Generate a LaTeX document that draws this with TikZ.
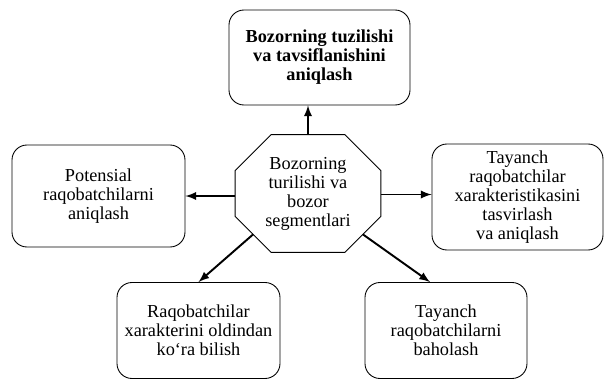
\documentclass[tikz,border=0pt]{standalone}
\usepackage{fontspec}
\setmainfont{Liberation Serif}
\usepackage{tikz}
\usetikzlibrary{arrows,calc,positioning}

\tikzset{
  box/.style={draw, line width=0.5pt, rounded corners=0.3cm, align=center,
    font=\fontsize{10.4}{10.8}\selectfont, inner sep=2pt},
  hubbox/.style={minimum width=2.9cm, minimum height=2.34cm, align=center,
    font=\fontsize{10.4}{10.8}\selectfont, inner sep=0pt},
  arr/.style={-latex, line width=1.1pt}
}

\begin{document}
\begin{tikzpicture}
\useasboundingbox (0,0) rectangle (12.12,7.58);
% boxes
\node[box, minimum width=3.62cm, minimum height=1.9cm, font=\fontsize{10.4}{10.8}\selectfont\bfseries] (top) at (6.39,6.43) {Bozorning tuzilishi\\va tavsiflanishini\\aniqlash};
\node[box, minimum width=3.46cm, minimum height=2.04cm] (lt) at (1.97,3.66) {Potensial\\raqobatchilarni\\aniqlash};
\node[box, minimum width=3.42cm, minimum height=2.12cm] (rt) at (10.35,3.64) {Tayanch\\raqobatchilar\\xarakteristikasini\\tasvirlash\\va aniqlash};
\node[box, minimum width=3.26cm, minimum height=1.92cm] (bl) at (3.97,0.97) {Raqobatchilar\\xarakterini oldindan\\ko`ra bilish};
\node[box, minimum width=3.24cm, minimum height=1.92cm] (br) at (8.92,0.97) {Tayanch\\raqobatchilarni\\baholash};
% octagon in the middle
\node[hubbox] (hub) at (6.16,3.71) {Bozorning\\turilishi va\\bozor\\segmentlari};
\draw[line width=0.5pt] ($(hub.north west)+(0.72,0)$) -- ($(hub.north east)+(-0.72,0)$)
  -- ($(hub.north east)+(0,-0.72)$) -- ($(hub.south east)+(0,0.72)$)
  -- ($(hub.south east)+(-0.72,0)$) -- ($(hub.south west)+(0.72,0)$)
  -- ($(hub.south west)+(0,0.72)$) -- ($(hub.north west)+(0,-0.72)$) -- cycle;
\coordinate (hubsw) at ($(hub.south west)+(0.36,0.36)$);
\coordinate (hubse) at ($(hub.south east)+(-0.36,0.36)$);
% arrows
\draw[arr] (hub.north) -- (hub.north |- top.south);
\draw[arr] (hub.west |- lt.east) -- (lt.east);
\draw[arr] ([yshift=-0.02cm]hub.east) -- ([yshift=-0.02cm]hub.east -| rt.west);
\draw[arr] (hubsw) -- (bl.north);
\draw[arr] (hubse) -- ([xshift=-0.32cm]br.north);
\end{tikzpicture}
\end{document}
